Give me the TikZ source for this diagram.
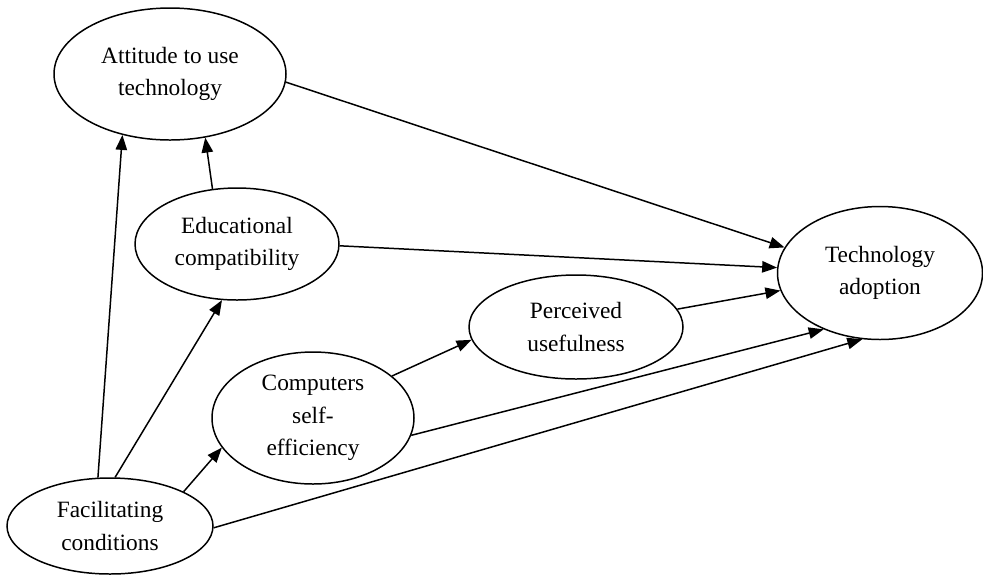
\documentclass[tikz,border=0pt]{standalone}
\usepackage{fontspec}
\setmainfont{Liberation Serif}
\usepackage{tikz}
\usetikzlibrary{shapes.geometric,arrows.meta}
\tikzstyle{construct} = [ellipse, draw=black, line width=0.85pt, inner sep=0pt, align=center, font=\fontsize{13.3}{18.5}\selectfont]
\tikzstyle{arrow} = [line width=0.85pt, -{Triangle[length=8.5pt,width=6.5pt]}]

\begin{document}
\begin{tikzpicture}

\useasboundingbox (0,0) rectangle (19.66,-11.48);

\node (attitude) [construct, minimum width=4.64cm, minimum height=2.64cm] at (3.40,-1.48) {Attitude to use\\technology};
\node (educompat) [construct, minimum width=4.08cm, minimum height=2.24cm] at (4.74,-4.88) {Educational\\compatibility};
\node (techadopt) [construct, minimum width=4.10cm, minimum height=2.66cm] at (17.60,-5.46) {Technology\\adoption};
\node (usefulness) [construct, minimum width=4.28cm, minimum height=2.08cm] at (11.52,-6.54) {Perceived\\usefulness};
\node (selfeff) [construct, minimum width=4.04cm, minimum height=2.64cm] at (6.26,-8.36) {Computers\\self-\\efficiency};
\node (facilcond) [construct, minimum width=4.12cm, minimum height=1.92cm] at (2.20,-10.52) {Facilitating\\conditions};

\draw [arrow] (facilcond.104) -- (attitude.-128);
\draw [arrow] (facilcond.84) -- (educompat.-105);
\draw [arrow] (facilcond.25) -- (selfeff.-162);
\draw [arrow] (facilcond.-1) -- (techadopt.-105);
\draw [arrow] (educompat.114) -- (attitude.-61);
\draw [arrow] (attitude.-4) -- (techadopt.165);
\draw [arrow] (educompat.-1) -- (techadopt.177);
\draw [arrow] (selfeff.28) -- (usefulness.-173);
\draw [arrow] (selfeff.-10) -- (techadopt.-135);
\draw [arrow] (usefulness.10) -- (techadopt.-170);

\end{tikzpicture}
\end{document}
